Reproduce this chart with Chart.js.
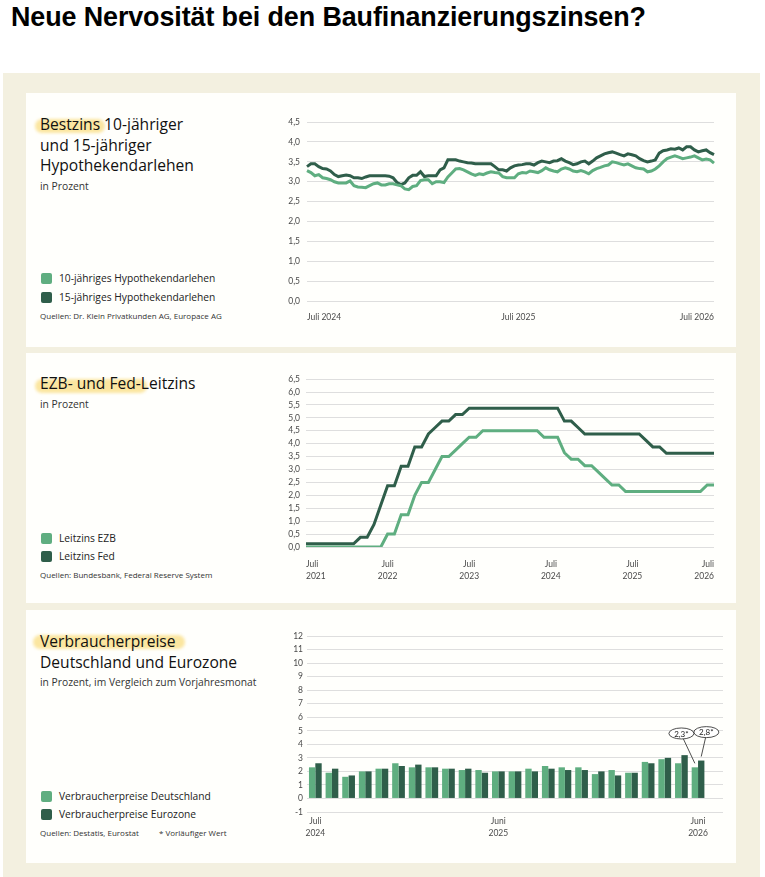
<!DOCTYPE html>
<html><head><meta charset="utf-8">
<script src="https://cdn.jsdelivr.net/npm/chart.js@4.4.1/dist/chart.umd.min.js"></script>
<style>
html,body{margin:0;padding:0;width:765px;height:877px;overflow:hidden;background:#fff;font-family:"Open Sans",Lato,sans-serif;}
#title{position:absolute;left:11px;top:2px;font-family:"Liberation Sans",Arial,sans-serif;font-weight:bold;font-size:26.9px;color:#000;white-space:nowrap;letter-spacing:-0.1px;}
#bg{position:absolute;left:3px;top:73px;width:757px;height:804px;background:#f3f0e0;}
.panel{position:absolute;left:26px;width:710px;background:#fffffc;}
.t{position:absolute;white-space:nowrap;color:#1b1b1b;}
.h{font-size:15.6px;line-height:20.5px;color:#111;}
.sub{font-size:10.3px;line-height:12px;color:#333;}
.leg{font-size:10.25px;line-height:14px;color:#222;}
.sw{position:absolute;width:11px;height:11px;border-radius:2px;}
.src{font-size:8px;line-height:10px;color:#333;}
.hl{position:absolute;background:#fbe6a0;border-radius:7px;filter:blur(1.5px);}
.cw{position:absolute;}
</style></head>
<body>
<div id="title">Neue Nervosität bei den Baufinanzierungszinsen?</div>
<div id="bg"></div>
<div class="panel" style="top:93px;height:254px;"></div>
<div class="panel" style="top:353px;height:250px;"></div>
<div class="panel" style="top:610px;height:253px;"></div>

<!-- Panel 1 text -->
<div class="hl" style="left:35px;top:119px;width:70px;height:14px;"></div>
<div class="t h" style="left:40px;top:114px;">Bestzins 10-jähriger<br>und 15-jähriger<br>Hypothekendarlehen</div>
<div class="t sub" style="left:40px;top:180px;">in Prozent</div>
<div class="sw" style="left:41px;top:273px;background:#5fae80;"></div>
<div class="sw" style="left:41px;top:292px;background:#2f5e4a;"></div>
<div class="t leg" style="left:59px;top:271px;">10-jähriges Hypothekendarlehen</div>
<div class="t leg" style="left:59px;top:290px;">15-jähriges Hypothekendarlehen</div>
<div class="t src" style="left:40px;top:311px;">Quellen: Dr. Klein Privatkunden AG, Europace AG</div>

<!-- Panel 2 text -->
<div class="hl" style="left:35px;top:379px;width:112px;height:14px;"></div>
<div class="t h" style="left:40px;top:373px;">EZB- und Fed-Leitzins</div>
<div class="t sub" style="left:40px;top:398px;">in Prozent</div>
<div class="sw" style="left:41px;top:533px;background:#5fae80;"></div>
<div class="sw" style="left:41px;top:551px;background:#2f5e4a;"></div>
<div class="t leg" style="left:59px;top:531px;">Leitzins EZB</div>
<div class="t leg" style="left:59px;top:549px;">Leitzins Fed</div>
<div class="t src" style="left:40px;top:570px;">Quellen: Bundesbank, Federal Reserve System</div>

<!-- Panel 3 text -->
<div class="hl" style="left:33px;top:635px;width:152px;height:14px;"></div>
<div class="t h" style="left:40px;top:631px;">Verbraucherpreise<br>Deutschland und Eurozone</div>
<div class="t sub" style="left:40px;top:676px;">in Prozent, im Vergleich zum Vorjahresmonat</div>
<div class="sw" style="left:41px;top:791px;background:#5fae80;"></div>
<div class="sw" style="left:41px;top:809px;background:#2f5e4a;"></div>
<div class="t leg" style="left:59px;top:789px;">Verbraucherpreise Deutschland</div>
<div class="t leg" style="left:59px;top:807px;">Verbraucherpreise Eurozone</div>
<div class="t src" style="left:40px;top:828px;">Quellen: Destatis, Eurostat</div>
<div class="t src" style="left:159px;top:828px;">* Vorläufiger Wert</div>

<div class="cw" style="left:270px;top:110px;width:455px;height:220px;"><canvas id="c1"></canvas></div>
<div class="cw" style="left:270px;top:368px;width:455px;height:219px;"><canvas id="c2"></canvas></div>
<div class="cw" style="left:270px;top:626px;width:458px;height:222px;"><canvas id="c3"></canvas></div>

<script>
// ---------- Data: Bestzins (weekly, Juli 2024 – Juli 2026) ----------
const bestzins10 = [3.28,3.23,3.15,3.18,3.10,3.08,3.05,3.00,2.97,2.97,2.97,3.02,2.90,2.87,2.86,2.85,2.90,2.95,2.97,2.92,
  2.92,2.95,2.95,2.92,2.90,2.82,2.80,2.88,2.90,3.03,3.05,3.05,2.95,3.00,3.00,2.98,3.12,3.22,3.32,3.33,
  3.30,3.25,3.20,3.16,3.20,3.18,3.22,3.25,3.23,3.22,3.13,3.10,3.10,3.10,3.20,3.23,3.22,3.27,3.25,3.23,
  3.28,3.35,3.30,3.27,3.25,3.32,3.35,3.32,3.27,3.25,3.28,3.25,3.20,3.28,3.33,3.36,3.40,3.42,3.50,3.48,
  3.45,3.42,3.45,3.40,3.35,3.33,3.32,3.25,3.27,3.32,3.40,3.50,3.58,3.62,3.65,3.62,3.58,3.60,3.62,3.65,
  3.60,3.55,3.57,3.55,3.47];
const bestzins15 = [3.38,3.45,3.45,3.38,3.33,3.32,3.27,3.18,3.13,3.15,3.17,3.15,3.10,3.10,3.08,3.12,3.15,3.15,3.15,3.15,
  3.15,3.14,3.10,2.98,2.93,2.97,3.10,3.16,3.16,3.25,3.13,3.15,3.15,3.15,3.30,3.35,3.55,3.55,3.55,3.52,
  3.50,3.48,3.47,3.45,3.45,3.45,3.45,3.45,3.38,3.30,3.30,3.27,3.35,3.40,3.42,3.43,3.45,3.45,3.42,3.48,
  3.52,3.50,3.48,3.52,3.53,3.58,3.52,3.48,3.43,3.45,3.50,3.52,3.45,3.52,3.60,3.65,3.70,3.73,3.75,3.72,
  3.68,3.65,3.70,3.68,3.65,3.58,3.53,3.50,3.52,3.55,3.72,3.78,3.80,3.83,3.82,3.85,3.80,3.88,3.88,3.80,
  3.75,3.78,3.80,3.73,3.68];
const bestzinsWeeks = bestzins10.map((_, i) => 'Woche ' + (i + 1));
const bestzinsTickIdx = [0, 54, 104];
const bestzinsTickText = ['Juli 2024', 'Juli 2025', 'Juli 2026'];

// ---------- Data: Leitzins (monthly, Aug 2021 – Aug 2026) ----------
const leitzinsEZB = [0,0,0,0,0,0,0,0,0,0,0,0,
  0.5,0.5,1.25,1.25,2.0,2.5,2.5,3.0,3.5,3.5,3.75,4.0,4.25,4.25,
  4.5,4.5,4.5,4.5,4.5,4.5,4.5,4.5,4.5,
  4.25,4.25,4.25,3.65,3.4,3.4,3.15,3.15,2.9,2.65,2.4,2.4,
  2.15,2.15,2.15,2.15,2.15,2.15,2.15,2.15,2.15,2.15,2.15,2.15,
  2.4,2.4];
const leitzinsFed = [0.125,0.125,0.125,0.125,0.125,0.125,0.125,0.125,
  0.375,0.375,0.875,1.625,2.375,2.375,3.125,3.125,3.875,3.875,4.375,4.625,4.875,4.875,5.125,5.125,
  5.375,5.375,5.375,5.375,5.375,5.375,5.375,5.375,5.375,5.375,5.375,5.375,5.375,5.375,
  4.875,4.875,4.625,
  4.375,4.375,4.375,4.375,4.375,4.375,4.375,4.375,4.375,
  4.125,3.875,3.875,
  3.625,3.625,3.625,3.625,3.625,3.625,3.625,3.625];
const monthNames = ['Jan','Feb','Mär','Apr','Mai','Juni','Juli','Aug','Sep','Okt','Nov','Dez'];
const leitzinsMonths = leitzinsEZB.map((_, i) => monthNames[(7 + i) % 12] + ' ' + (2021 + Math.floor((7 + i) / 12)));
const leitzinsTickIdx = [0, 12, 24, 36, 48, 60];
const leitzinsTickText = [['Juli','2021'],['Juli','2022'],['Juli','2023'],['Juli','2024'],['Juli','2025'],['Juli','2026']];

// ---------- Data: Verbraucherpreise (monthly, Juli 2024 – Juni 2026) ----------
const cpiDE = [2.3,1.9,1.6,2.0,2.2,2.6,2.3,2.3,2.2,2.1,2.1,2.0,2.0,2.2,2.4,2.3,2.3,1.8,2.1,1.9,2.7,2.9,2.6,2.3,null];
const cpiEZ = [2.6,2.2,1.7,2.0,2.2,2.4,2.5,2.3,2.2,2.2,1.9,2.0,2.0,2.0,2.2,2.1,2.1,2.0,1.7,1.9,2.6,3.0,3.2,2.8,null];
const cpiMonths = cpiDE.map((_, i) => monthNames[(6 + i) % 12] + ' ' + (2024 + Math.floor((6 + i) / 12)));
const cpiTickIdx = [0, 11, 23];
const cpiTickText = [['Juli','2024'],['Juni','2025'],['Juni','2026']];
const cpiNotes = [
  {text: '2,3*', dataset: 0, index: 23, atCategory: 22, atValue: 4.8},
  {text: '2,8*', dataset: 1, index: 23, atCategory: 23.5, atValue: 4.9}
];

const LIGHT = '#5fae80', DARK = '#2f5e4a', GRID = '#dedede', TICK = '#4a4a4a';
Chart.defaults.font.family = 'Lato, "Noto Sans", sans-serif';
Chart.defaults.animation = false;

function tickPick(idxArr, textArr) {
  return function (value, index) {
    const k = idxArr.indexOf(index);
    return k >= 0 ? textArr[k] : '';
  };
}
const comma1 = v => v.toFixed(1).replace('.', ',');

// Chart 1
new Chart(document.getElementById('c1'), {
  type: 'line',
  data: { labels: bestzinsWeeks, datasets: [
    { label: '10-jähriges Hypothekendarlehen', data: bestzins10, borderColor: LIGHT, borderWidth: 3, pointRadius: 0, tension: 0 },
    { label: '15-jähriges Hypothekendarlehen', data: bestzins15, borderColor: DARK, borderWidth: 3, pointRadius: 0, tension: 0 }
  ]},
  options: {
    responsive: true, maintainAspectRatio: false,
    layout: { padding: { top: 11, right: 5, left: 0, bottom: 0 } },
    plugins: { legend: { display: false }, tooltip: { enabled: false } },
    scales: {
      x: { grid: { display: false, drawTicks: false }, border: { display: false },
        afterFit: s => { s.height = 29; },
        ticks: { autoSkip: false, maxRotation: 0, minRotation: 0, align: 'inner', padding: 11,
          color: TICK, font: { size: 8.5 }, callback: tickPick(bestzinsTickIdx, bestzinsTickText) } },
      y: { min: 0, max: 4.5, grid: { color: GRID, drawTicks: false }, border: { display: false },
        afterFit: s => { s.width = 37; },
        ticks: { stepSize: 0.5, autoSkip: false, padding: 7, color: TICK, font: { size: 8.5 }, callback: comma1 } }
    }
  }
});

// Chart 2
new Chart(document.getElementById('c2'), {
  type: 'line',
  data: { labels: leitzinsMonths, datasets: [
    { label: 'Leitzins EZB', data: leitzinsEZB, borderColor: LIGHT, borderWidth: 3, pointRadius: 0, tension: 0 },
    { label: 'Leitzins Fed', data: leitzinsFed, borderColor: DARK, borderWidth: 3, pointRadius: 0, tension: 0 }
  ]},
  options: {
    responsive: true, maintainAspectRatio: false,
    layout: { padding: { top: 10, right: 3, left: 0, bottom: 0 } },
    plugins: { legend: { display: false }, tooltip: { enabled: false } },
    scales: {
      x: { grid: { display: false, drawTicks: false }, border: { display: false },
        afterFit: s => { s.height = 40; },
        ticks: { autoSkip: false, maxRotation: 0, minRotation: 0, align: 'inner', padding: 11,
          color: TICK, font: { size: 8.5, lineHeight: 1.45 }, callback: tickPick(leitzinsTickIdx, leitzinsTickText) } },
      y: { min: 0, max: 6.5, grid: { color: GRID, drawTicks: false }, border: { display: false },
        afterFit: s => { s.width = 36; },
        ticks: { stepSize: 0.5, autoSkip: false, padding: 6, color: TICK, font: { size: 8.5 }, callback: comma1 } }
    }
  }
});

// Chart 3
const notePlugin = {
  id: 'cpiNotes',
  afterDatasetsDraw(chart) {
    const ctx = chart.ctx, xs = chart.scales.x, ys = chart.scales.y;
    cpiNotes.forEach(n => {
      const lo = Math.floor(n.atCategory), f = n.atCategory - lo;
      const cx = f ? xs.getPixelForValue(lo) * (1 - f) + xs.getPixelForValue(lo + 1) * f : xs.getPixelForValue(lo);
      const cy = ys.getPixelForValue(n.atValue);
      const bar = chart.getDatasetMeta(n.dataset).data[n.index];
      ctx.save();
      ctx.strokeStyle = '#222'; ctx.lineWidth = 0.8;
      ctx.beginPath();
      ctx.moveTo(cx + (bar.x - cx) * 0.15, cy + 5.5);
      ctx.lineTo(bar.x, bar.y - 4);
      ctx.stroke();
      ctx.beginPath();
      ctx.ellipse(cx, cy, 12.5, 5.5, 0, 0, Math.PI * 2);
      ctx.fillStyle = '#fff'; ctx.fill(); ctx.stroke();
      ctx.fillStyle = '#222'; ctx.font = '8px Lato, sans-serif';
      ctx.textAlign = 'center'; ctx.textBaseline = 'middle';
      ctx.fillText(n.text, cx, cy + 0.5);
      ctx.restore();
    });
  }
};
new Chart(document.getElementById('c3'), {
  type: 'bar',
  data: { labels: cpiMonths, datasets: [
    { label: 'Verbraucherpreise Deutschland', data: cpiDE, backgroundColor: LIGHT, barPercentage: 1.0, categoryPercentage: 0.765 },
    { label: 'Verbraucherpreise Eurozone', data: cpiEZ, backgroundColor: DARK, barPercentage: 1.0, categoryPercentage: 0.765 }
  ]},
  options: {
    responsive: true, maintainAspectRatio: false,
    layout: { padding: { top: 10, right: 5, left: 0, bottom: 0 } },
    plugins: { legend: { display: false }, tooltip: { enabled: false } },
    scales: {
      x: { grid: { display: false, drawTicks: false }, border: { display: false },
        afterFit: s => { s.height = 36; },
        ticks: { autoSkip: false, maxRotation: 0, minRotation: 0, padding: 4,
          color: TICK, font: { size: 8.5, lineHeight: 1.35 }, callback: tickPick(cpiTickIdx, cpiTickText) } },
      y: { min: -1, max: 12, grid: { color: GRID, drawTicks: false }, border: { display: false },
        afterFit: s => { s.width = 37; },
        ticks: { stepSize: 1, autoSkip: false, padding: 4, color: TICK, font: { size: 8.5 } } }
    }
  },
  plugins: [notePlugin]
});
</script>
</body></html>
